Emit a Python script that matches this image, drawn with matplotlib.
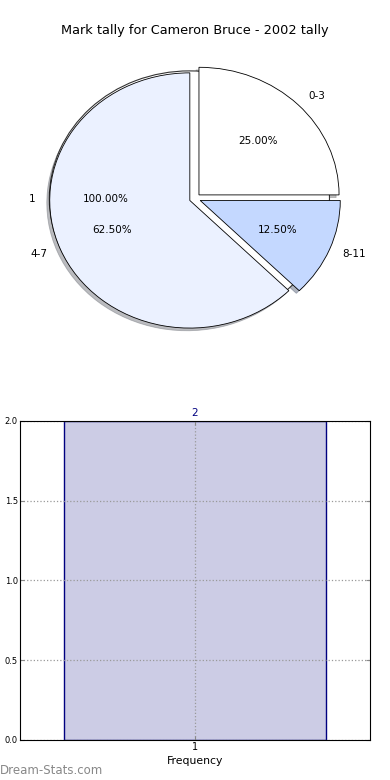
import matplotlib
matplotlib.use('Agg')
import matplotlib.pyplot as plt

# data
mark_labels = ['0-3', '4-7', '8-11']
mark_counts = [2, 5, 1]
mark_colors = ['#ffffff', '#ebf1ff', '#c4d8ff']
game_labels = ['1']
game_counts = [2]

fig = plt.figure(figsize=(3.9, 7.8), dpi=100)

# pie
ax1 = fig.add_axes([0.051, 0.541, 0.898, 0.409])
# single game pie underneath (only its texts and rim show)
ax1.pie(game_counts, labels=game_labels, autopct='%1.2f%%', colors=['white'],
        explode=[0.04], textprops={'fontsize': 7.5},
        wedgeprops={'linewidth': 0.8, 'edgecolor': '#333333'})
ax1.pie(mark_counts, labels=mark_labels, colors=mark_colors, autopct='%1.2f%%',
        explode=[0.04, 0.04, 0.04], textprops={'fontsize': 7.5},
        shadow={'ox': -0.015, 'oy': -0.015, 'shade': 0.5},
        wedgeprops={'linewidth': 0.6, 'edgecolor': 'black'})
ax1.set_aspect('auto')
ax1.set_xlim(-1.25, 1.25)
ax1.set_ylim(-1.25, 1.25)
ax1.set_title('Mark tally for Cameron Bruce - 2002 tally', fontsize=9.3, pad=3.5)

# histogram of games
ax2 = fig.add_axes([0.051, 0.0513, 0.898, 0.409])
x = [1 + i for i in range(len(game_counts))]
ax2.bar(x, game_counts, width=0.75, color='navy', alpha=0.2, edgecolor='none')
ax2.bar(x, game_counts, width=0.75, fill=False, edgecolor='navy', linewidth=1)
for xi, v in zip(x, game_counts):
    ax2.text(xi, v + 0.02, str(v), ha='center', va='bottom', color='navy',
             fontsize=7.5)
ax2.set_xlim(0.5, 1.5)
ax2.set_ylim(0, 2.0)
ax2.set_xticks(x)
ax2.set_xticklabels(game_labels, fontsize=7)
ax2.set_yticks([0.0, 0.5, 1.0, 1.5, 2.0])
ax2.set_yticklabels(['0.0', '0.5', '1.0', '1.5', '2.0'], fontsize=6)
ax2.tick_params(direction='in', length=3, top=True, right=True, pad=1.5,
                color='#888888')
ax2.grid(True, linestyle=':', color='#999999', linewidth=0.9)
ax2.set_xlabel('Frequency', fontsize=7.8, labelpad=2.5)

fig.text(0.0, 0.004, 'Dream-Stats.com', fontsize=8.5, color='#888888',
         ha='left', va='bottom')

plt.savefig('out.png', dpi=100)
